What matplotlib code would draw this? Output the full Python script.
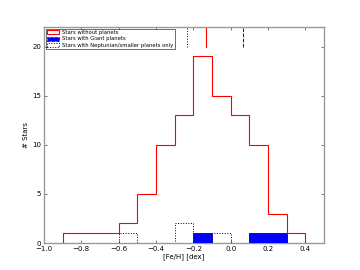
import numpy as np
import matplotlib.pyplot as plt
from matplotlib.patches import Patch

# bin edges [Fe/H], 0.1 dex wide
edges = np.round(np.arange(-0.9, 0.41, 0.1), 2)

# counts per bin
no_planets = [1, 1, 1, 2, 5, 10, 13, 19, 15, 13, 10, 3, 1]
giant = [0, 0, 0, 0, 0, 0, 0, 1, 0, 0, 1, 1, 0]
neptunian = [0, 0, 0, 1, 0, 0, 2, 1, 1, 0, 0, 0, 0]

# mean values marked at the top
mean_no = -0.13
mean_giant = 0.066
mean_nep = -0.234

fig = plt.figure(figsize=(3.6, 2.7), dpi=100)
ax = fig.add_axes([0.122, 0.1, 0.778, 0.8])

ax.stairs(neptunian, edges, color='black', linestyle=':', linewidth=0.7, zorder=2)
ax.stairs(giant, edges, fill=True, facecolor='blue', edgecolor='blue', linewidth=0.7, zorder=3)
ax.stairs(giant, edges, color='#222266', linestyle='--', linewidth=0.5, zorder=4)
ax.stairs(no_planets, edges, color='red', linewidth=0.8, zorder=5)

ax.set_xlim(-1.0, 0.5)
ax.set_ylim(0, 22)
ax.axvline(mean_no, ymin=20 / 22, ymax=1, color='red', linewidth=0.8)
ax.axvline(mean_giant, ymin=20 / 22, ymax=1, color='blue', linestyle='--', linewidth=0.7)
ax.axvline(mean_nep, ymin=20 / 22, ymax=1, color='black', linestyle=':', linewidth=0.7)

ax.set_xticks(np.round(np.arange(-1.0, 0.41, 0.2), 1))
ax.set_yticks([0, 5, 10, 15, 20])
ax.tick_params(direction='in', top=True, right=True, labelsize=5, length=2.5,
               width=0.5, pad=2, color='#444444')
for s in ax.spines.values():
    s.set_color('#999999')
    s.set_linewidth(1.0)

ax.set_xlabel('[Fe/H] [dex]', fontsize=5, labelpad=1)
ax.set_ylabel('# Stars', fontsize=5, labelpad=2)

handles = [
    Patch(facecolor='white', edgecolor='red', linewidth=0.8, label='Stars without planets'),
    Patch(facecolor='blue', edgecolor='#222266', linestyle='--', linewidth=0.6, label='Stars with Giant planets'),
    Patch(facecolor='white', edgecolor='black', linestyle=':', linewidth=0.7,
          label='Stars with Neptunian/smaller planets only'),
]
leg = ax.legend(handles=handles, loc='upper left', fontsize=3.8, frameon=True, fancybox=False,
                borderaxespad=0.3, handlelength=2.2, handleheight=0.8, labelspacing=0.25,
                borderpad=0.3, handletextpad=0.6)
leg.get_frame().set_edgecolor('black')
leg.get_frame().set_linewidth(0.5)

plt.savefig('out.png', dpi=100)
